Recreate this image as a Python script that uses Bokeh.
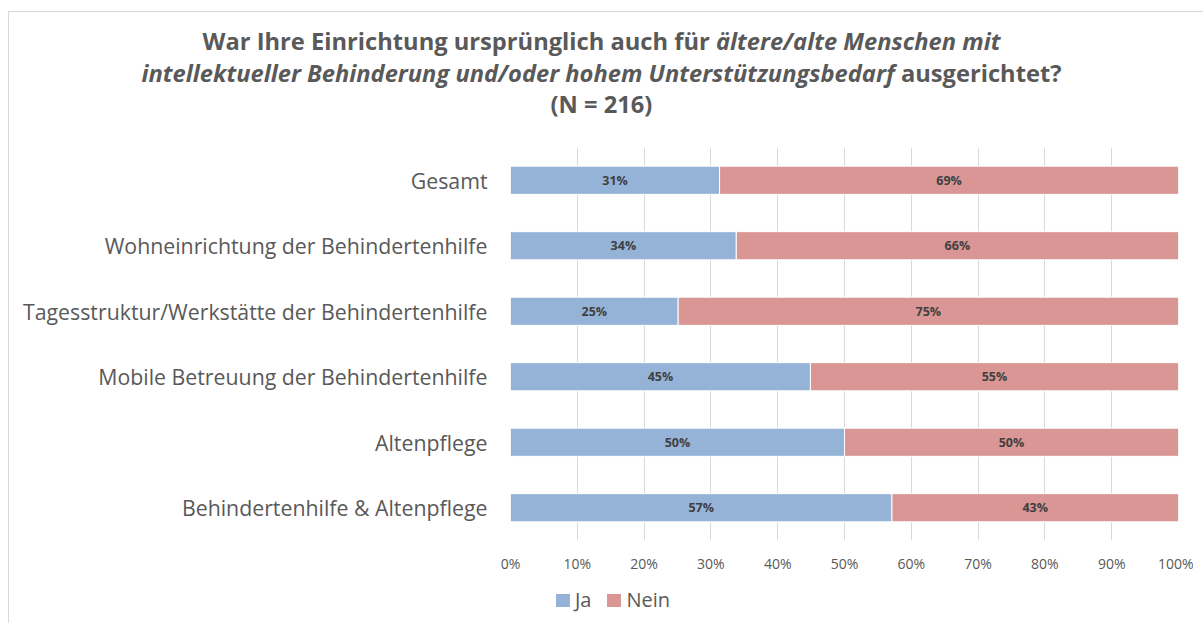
from bokeh.plotting import figure
from bokeh.layouts import column
from bokeh.models import FactorRange, ColumnDataSource, FixedTicker, Div
from bokeh.embed import file_html
from bokeh.resources import INLINE
from bokeh.core.properties import value

categories = [
    "Gesamt",
    "Wohneinrichtung der Behindertenhilfe",
    "Tagesstruktur/Werkstätte der Behindertenhilfe",
    "Mobile Betreuung der Behindertenhilfe",
    "Altenpflege",
    "Behindertenhilfe & Altenpflege",
]
ja = [31.3, 33.8, 25.1, 44.9, 50.0, 57.1]
nein = [68.7, 66.2, 74.9, 55.1, 50.0, 42.9]
x_ticks = [0, 10, 20, 30, 40, 50, 60, 70, 80, 90, 100]
series = ["Ja", "Nein"]
title_parts = [
    ("War Ihre Einrichtung ursprünglich auch für ", "b"),
    ("ältere/alte Menschen mit", "bi"),
    ("intellektueller Behinderung und/oder hohem Unterstützungsbedarf", "bi"),
    (" ausgerichtet?", "b"),
    ("(N = 216)", "b"),
]

FONT = "Open Sans"
GRAY = "#595959"
C_JA = "#95B3D7"
C_NEIN = "#D99694"
COLORS = [C_JA, C_NEIN]

DIV_H = 125
FL, FT, FW, FH = 510, 147, 668, 393  # frame left/top/width/height in page px
BOTTOM = 40


def span(txt, st):
    css = "font-weight:bold;" + ("font-style:italic;" if "i" in st else "")
    return f'<span style="{css}">{txt}</span>'


t = title_parts
title_html = (
    '<div style="position:absolute;left:8px;top:11px;width:1400px;height:900px;'
    'border-left:1px solid #d9d9d9;border-top:1px solid #d9d9d9;pointer-events:none;"></div>'
    f'<div style="position:relative;font-family:\'{FONT}\';font-size:23.7px;line-height:31.5px;color:{GRAY};'
    f'text-align:center;padding-top:26px;padding-left:18px;width:1185px;">'
    f'{span(t[0][0], t[0][1])}{span(t[1][0], t[1][1])}<br>'
    f'{span(t[2][0], t[2][1])}{span(t[3][0], t[3][1])}<br>'
    f'{span(t[4][0], t[4][1])}</div>'
)
div = Div(text=title_html, width=1203, height=DIV_H, margin=0)

p = figure(
    frame_width=FW, frame_height=FH,
    y_range=FactorRange(*reversed(categories)),
    x_range=(0, 100),
    output_backend="svg", toolbar_location=None,
    min_border_left=FL, min_border_right=15,
    min_border_top=FT - DIV_H, min_border_bottom=BOTTOM,
    margin=0,
)
p.outline_line_color = None
p.border_fill_alpha = 0

ja_left = [0] * len(ja)
nein_right = [a + b for a, b in zip(ja, nein)]
src = ColumnDataSource(dict(
    cat=categories, ja=ja, nein=nein, ja_left=ja_left, nein_left=ja,
    nein_right=nein_right,
    ja_mid=[a / 2 for a in ja],
    nein_mid=[a + b / 2 for a, b in zip(ja, nein)],
    ja_lbl=[f"{round(v)}%" for v in ja],
    nein_lbl=[f"{round(v)}%" for v in nein],
))

p.hbar(y="cat", left="ja_left", right="ja", height=0.43, source=src,
       fill_color=C_JA, line_color="white", line_width=1)
p.hbar(y="cat", left="nein_left", right="nein_right", height=0.43, source=src,
       fill_color=C_NEIN, line_color="white", line_width=1)

for xcol, tcol in (("ja_mid", "ja_lbl"), ("nein_mid", "nein_lbl")):
    p.text(x=xcol, y="cat", text=tcol, source=src, text_align="center",
           text_baseline="middle", text_font=value(FONT), text_font_style="bold",
           text_font_size="12.5px", text_color="#404040")

# axes
p.xaxis.ticker = FixedTicker(ticks=x_ticks)
p.xaxis.major_label_overrides = {t: f"{t}%" for t in x_ticks}
p.xaxis.axis_line_color = None
p.xaxis.major_tick_line_color = None
p.xaxis.minor_tick_line_color = None
p.xaxis.major_label_standoff = 7
p.xaxis.major_label_text_font = FONT
p.xaxis.major_label_text_font_size = "14px"
p.xaxis.major_label_text_color = GRAY

p.yaxis.axis_line_color = None
p.yaxis.major_tick_line_color = None
p.yaxis.major_label_standoff = 17
p.yaxis.major_label_text_font = FONT
p.yaxis.major_label_text_font_size = "21.3px"
p.yaxis.major_label_text_color = GRAY

p.ygrid.grid_line_color = None
p.xgrid.grid_line_color = "#d9d9d9"
p.xgrid.grid_line_width = 1

# legend (HTML row below the plot)
items = []
for name, col in zip(series, COLORS):
    items.append(
        f'<span style="display:inline-block;width:14px;height:13px;background:{col};'
        f'margin-right:5px;"></span><span style="margin-right:16px;">{name}</span>'
    )
legend_html = (
    f'<div style="font-family:\'{FONT}\';font-size:20px;line-height:22px;color:{GRAY};'
    f'padding-top:9px;padding-left:556px;display:flex;align-items:center;white-space:nowrap;">'
    + "".join(items) + '</div>'
)
legend_div = Div(text=legend_html, width=1203, height=623 - FT - FH - BOTTOM, margin=0)

layout = column(div, p, legend_div, spacing=0, margin=0)
open("out.html", "w").write(file_html(layout, INLINE))
